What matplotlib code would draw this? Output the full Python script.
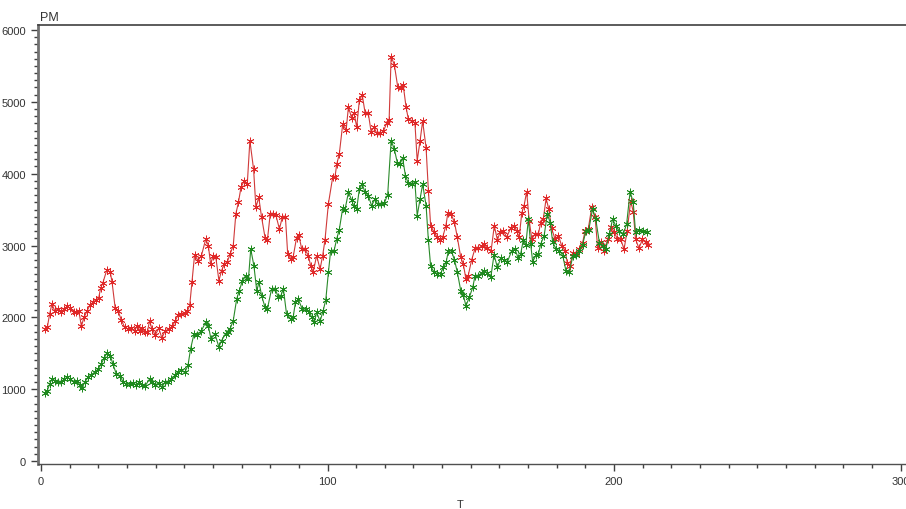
"""
Time series of PM against T, two series with asterisk markers.
"""
import matplotlib
matplotlib.use('Agg')
import matplotlib.pyplot as plt
from matplotlib.ticker import MultipleLocator

# red series
T_RED = [1.3, 2.2, 3, 3.8, 4.8, 5.9, 6.9, 8, 9.2, 10.2, 11.4, 12.3, 13.2, 14.1, 15,
         16.1, 17, 18.1, 19.3, 20.1, 20.8, 21.6, 23, 24.2, 24.8, 25.9, 26.9, 28, 29.2,
         30.4, 31.5, 32.7, 33.6, 34.4, 35.4, 36.4, 37.1, 37.9, 38.7, 39.9, 41.1, 42.2,
         43.2, 44.6, 45.8, 46.9, 47.8, 49, 50.2, 51.1, 51.9, 52.7, 53.6, 54.8,
         56, 57.5, 58.4, 59.2, 60.1, 61, 62.1, 63, 64, 65, 66, 67.1, 68, 68.9, 69.8,
         70.9, 72, 72.9, 74.2, 75, 76, 77, 78.2, 79, 80, 81, 82, 83.2, 84.2, 85.3, 86.1,
         87.3, 88, 89.2, 90, 91, 92.1, 93.3, 94.1, 95, 96.2, 97.4, 98.3, 99.1, 100.3,
         101.8, 102.6, 103.2, 104.1,
         105.3, 106.5, 107.3, 108.4, 109.2, 110.2, 111.1, 112.1, 113.1, 114.2, 115.2,
         116.2, 117.2, 118.3, 119.5, 120.7, 121.5, 122.2, 123.3, 124.5, 125.5, 126.4,
         127.4, 128.2, 129.4, 130.5, 131.3, 132.3, 133.2, 134.4, 135.2, 136, 137.2,
         138.1, 139.3, 140.2, 141.3, 142, 143.1, 144.3, 145.3, 146.5, 147.4, 148.3, 149.1,
         150.3, 151.5, 152.6, 153.8, 154.7, 155.8, 157.1, 158.2, 159.3, 160.2, 161.4,
         162.5, 163.9, 165.1, 166, 166.9, 167.8, 168.6, 169.5, 170.4, 171.3, 172.4,
         173.6, 174.4, 175.3, 176.3, 177.2, 178.2, 179.4, 180.6, 181.7, 182.9, 183.7,
         184.6, 185.6, 186.7, 187.9, 189, 189.9, 191, 192.2, 193.4, 194.3, 195.5, 196.6,
         197.8, 199, 200.1, 201.2, 202.3, 203.5, 204.6, 205.8, 206.7, 207.5, 208.7,
         209.9, 211, 211.9]
PM_RED = [1840, 1860, 2045, 2185, 2090, 2115, 2070, 2115, 2155, 2125, 2070, 2070, 2090,
          1875, 2000, 2090, 2165, 2210, 2245, 2265, 2405, 2480, 2665, 2625, 2490, 2125,
          2090, 1965, 1860, 1840, 1850, 1815, 1885, 1815, 1850, 1795, 1790, 1955, 1840,
          1755, 1850, 1710, 1805, 1840, 1875, 1955, 2030, 2045, 2060, 2090, 2165, 2490,
          2870, 2790,
          2860, 3090, 3000, 2740, 2860, 2840, 2510, 2650, 2740, 2770, 2880, 3000, 3440,
          3600, 3810, 3900, 3860, 4460, 4060, 3530, 3670, 3390, 3110, 3070, 3440, 3440,
          3420, 3230, 3390, 3400, 2880, 2810, 2840, 3110, 3140, 2950, 2950, 2860, 2720,
          2630, 2860, 2670, 2860, 3070, 3580, 3950, 3950, 4130, 4270,
          4690, 4610, 4930, 4775, 4850, 4650, 5020, 5100, 4850, 4850, 4585, 4650, 4560,
          4560, 4590, 4710, 4750, 5630, 5520, 5210, 5190, 5240, 4930, 4760, 4740, 4710,
          4180, 4460, 4730, 4360, 3765, 3275, 3185, 3125, 3075, 3115, 3275, 3450, 3440,
          3325, 3115, 2835, 2740, 2535, 2580,
          2800, 2960, 2960, 2990, 3020, 2960, 2930, 3275, 3075, 3185, 3205, 3115, 3240,
          3275, 3205, 3115, 3455, 3555, 3750, 3345, 3090, 3160, 3160, 3320, 3370, 3655,
          3510, 3240, 3090, 3135, 3000, 2930, 2755, 2720, 2895, 2880, 2950, 3035, 3205,
          3230, 3530, 3390, 2960, 3055, 2930, 3090, 3255, 3185, 3085, 3090, 2950, 3205,
          3625, 3470, 3090, 2960, 3085, 3045, 3005]

# green series
T_GREEN = [1.3, 2.2, 3, 3.8, 5, 5.9, 6.9, 8, 9.2, 10.2, 11.4, 12.6, 13.5, 14.3, 15.2,
           16.4, 17.6, 18.7, 19.9, 21, 22, 23, 24.2, 25.1, 26.3, 27.5, 28.6, 29.8, 30.9,
           32.1, 33.3, 34.2, 35.4, 36.4, 37.9, 38.7, 39.9, 41.1, 42.2, 43.2, 44.3, 45.5,
           46.9, 47.8, 49, 50.2, 51.3, 52.2, 53.4, 54.5,
           56, 57.5, 58.4, 59.3, 60.7, 62.1, 63, 64.4, 65.2, 66, 67.1, 68.3, 69.2, 70.3,
           71.4, 72.4, 73.2, 74.3, 75.3, 76.1, 77, 78.2, 79, 80.5, 81.7, 82.8, 83.7, 84.6,
           85.7, 87.2, 88, 88.8, 89.8, 91.2, 92.5, 93.6, 94.5, 95.4, 96.2, 97.4, 98.5,
           99.4, 100.3, 101.1, 102.3, 103.2, 104.1,
           105.3, 106.1, 107.3, 108.4, 109.2, 110.2, 111.1, 112.1, 113.1, 114.2, 115.4,
           116.6, 117.5, 118.7, 119.8, 121, 122.2, 123.3, 124.4, 125.3, 126.2, 127.2,
           128.2, 129.4, 130.5, 131.3, 132.3, 133.2, 134.4, 135.2, 136, 137.2, 138.3,
           139.5, 140.4, 141.4, 142.2, 143.3, 144.3, 145.3, 146.5, 147.4, 148.3, 149.5,
           150.7, 151.5, 152.6, 153.8, 154.7, 155.8, 157, 158.1, 159.3, 160.4, 161.5,
           162.8, 164.3, 165.4, 166.6, 167.4, 168.3, 169.2, 170.1, 170.9, 171.6, 172.8,
           173.6, 174.4, 175.6, 176.7, 177.7, 178.6, 179.8, 180.9, 182.1, 183.2, 184.4,
           185.6, 186.7, 187.9, 189, 190.2, 191.2, 192.5, 193.6, 194.9, 196, 197.1,
           198.4, 199.5, 200.7, 201.8, 203.2, 204.4, 205.6, 206.7, 207.5, 208.8, 210.2,
           211.6]
PM_GREEN = [945, 980, 1070, 1140, 1120, 1105, 1095, 1140, 1165, 1140, 1105, 1120, 1060,
            1010, 1095, 1165, 1200, 1235, 1280, 1350, 1430, 1505, 1465, 1350, 1210, 1190,
            1105, 1070, 1070, 1085, 1060, 1095, 1060, 1050, 1140, 1105, 1060, 1085, 1025,
            1095, 1105, 1140, 1200, 1245, 1265, 1235, 1330, 1560, 1770, 1755,
            1815, 1935, 1885, 1700, 1770, 1585, 1675, 1770, 1800, 1840, 1955, 2255, 2370,
            2510, 2580, 2535, 2950, 2720, 2370, 2490, 2300, 2140, 2115, 2400, 2400, 2280,
            2300, 2395, 2045, 1975, 2000, 2210, 2250, 2115, 2115, 2070, 2000, 1930, 2070,
            1945, 2095, 2245, 2625, 2930, 2930, 3090, 3220,
            3520, 3500, 3740, 3635, 3545, 3515, 3785, 3855, 3740, 3695, 3555, 3650, 3575,
            3575, 3590, 3710, 4460, 4345, 4145, 4135, 4220, 3970, 3865, 3855, 3880, 3415,
            3650, 3855, 3555, 3075, 2710, 2630, 2610, 2610, 2695, 2765, 2930, 2920, 2800,
            2630, 2370, 2315, 2160, 2280,
            2420, 2580, 2580, 2620, 2650, 2620, 2560, 2870, 2695, 2820, 2800, 2775, 2930,
            2950, 2820, 2880, 3070, 3005, 3370, 3020, 2775, 2870, 2880, 3020, 3135, 3440,
            3320, 3045, 2950, 2930, 2860, 2650, 2630, 2850, 2870, 2920, 3005, 3205, 3220,
            3510, 3370, 3035, 3000, 2950, 3160, 3370, 3265, 3205, 3160, 3300, 3750, 3600,
            3185, 3220, 3205, 3190]

X_TICKS = [0, 100, 200, 300]
Y_TICKS = [0, 1000, 2000, 3000, 4000, 5000, 6000]

plt.rcParams['font.family'] = ['Liberation Sans', 'DejaVu Sans']

FIG = plt.figure(figsize=(9.06, 5.10), dpi=100)
AX = FIG.add_axes([38 / 906, 1 - 465 / 510, 1 - 38 / 906, (465 - 26) / 510])

# asterisk marker with six arms
STAR = (6, 2, 0)
AX.plot(T_RED, PM_RED, color='#d03a3a', lw=0.8, marker=STAR, ms=5.5,
        mec='#e02828', mew=0.6, clip_on=False)
AX.plot(T_GREEN, PM_GREEN, color='#2a8a2a', lw=0.8, marker=STAR, ms=5.5,
        mec='#1e8a1e', mew=0.6, clip_on=False)

AX.set_xlim(-1.05, 301.9)
AX.set_ylim(-42, 6070)
AX.set_xticks(X_TICKS)
AX.set_yticks(Y_TICKS)
AX.xaxis.set_minor_locator(MultipleLocator(10))
AX.yaxis.set_minor_locator(MultipleLocator(100))
AX.tick_params(which='major', direction='out', length=5, width=1, colors='#404040',
               labelsize=8, labelcolor='#333333')
AX.tick_params(which='minor', direction='out', length=3, width=1, colors='#404040')

AX.spines['right'].set_visible(False)
AX.spines['left'].set_color('#707070')
AX.spines['left'].set_linewidth(2)
AX.spines['bottom'].set_color('#505050')
AX.spines['bottom'].set_linewidth(1)
AX.spines['top'].set_color('#404040')
AX.spines['top'].set_linewidth(1.2)

FIG.text(40 / 906, 1 - 18 / 510, 'PM', fontsize=9, color='#333333', va='center')
FIG.text(460 / 906, 1 - 505 / 510, 'T', fontsize=8, color='#333333',
         ha='center', va='center')

plt.savefig('out.png', dpi=100)
